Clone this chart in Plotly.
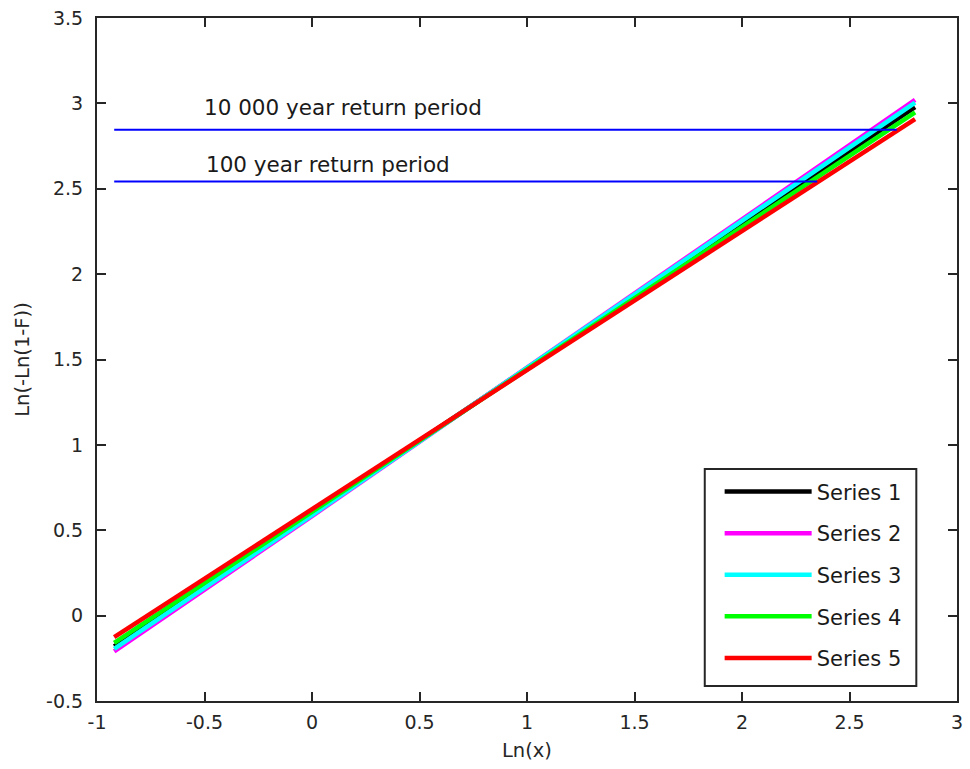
import plotly.graph_objects as go

# Ln(x) sample positions and Ln(-Ln(1-F)) values for each fitted series
x_vals = [-0.92, 0.0, 1.0, 2.0, 2.805]
series_names = ["Series 1", "Series 2", "Series 3", "Series 4", "Series 5"]
series_colors = ["#000000", "#FF00FF", "#00FFFF", "#00FF00", "#FF0000"]
series_1 = [-0.18, 0.597, 1.448, 2.298, 2.978]
series_2 = [-0.21, 0.583, 1.453, 2.323, 3.02]
series_3 = [-0.195, 0.589, 1.451, 2.313, 3.005]
series_4 = [-0.159, 0.609, 1.444, 2.279, 2.947]
series_5 = [-0.126, 0.624, 1.439, 2.254, 2.908]
series_values = [series_1, series_2, series_3, series_4, series_5]

# Return period reference levels
rp_labels = ["10 000 year return period", "100 year return period"]
rp_levels = [2.845, 2.542]
rp_x_start = [-0.92, -0.92]
rp_x_end = [2.72, 2.35]
rp_label_x = [-0.512, -0.503]
rp_label_y = [2.975, 2.642]

AXIS_COLOR = "#262626"
FONT = "DejaVu Sans"

fig = go.Figure()

for name, color, ys in zip(series_names, series_colors, series_values):
    fig.add_trace(go.Scatter(
        x=x_vals, y=ys, mode="lines", name=name, legendgroup=name,
        line=dict(color=color, width=4.5),
    ))

for xs, xe, lvl in zip(rp_x_start, rp_x_end, rp_levels):
    fig.add_trace(go.Scatter(
        x=[xs, xe], y=[lvl, lvl], mode="lines", showlegend=False,
        line=dict(color="#0000FF", width=2), hoverinfo="skip",
    ))

for txt, lx, ly in zip(rp_labels, rp_label_x, rp_label_y):
    fig.add_annotation(
        x=lx, y=ly, xref="x", yref="y", text=txt, showarrow=False,
        xanchor="left", yanchor="middle",
        font=dict(family=FONT, size=21.5, color="#1a1a1a"),
    )

# Framed box behind the legend entries
fig.add_shape(
    type="rect", xref="paper", yref="paper",
    x0=0.7067, x1=0.9527, y0=0.022, y1=0.3397,
    line=dict(color=AXIS_COLOR, width=2), fillcolor="white", layer="above",
)

axis_common = dict(
    showline=True, linecolor=AXIS_COLOR, linewidth=2, mirror="ticks",
    ticks="inside", ticklen=9, tickwidth=2, tickcolor=AXIS_COLOR,
    showgrid=False, zeroline=False,
    tickfont=dict(family=FONT, size=19, color=AXIS_COLOR),
)

fig.update_xaxes(
    range=[-1, 3], tickvals=[-1, -0.5, 0, 0.5, 1, 1.5, 2, 2.5, 3],
    ticktext=["-1", "-0.5", "0", "0.5", "1", "1.5", "2", "2.5", "3"],
    ticklabelstandoff=3,
    title=dict(text="Ln(x)", font=dict(family=FONT, size=19.5, color=AXIS_COLOR), standoff=12),
    **axis_common,
)
fig.update_yaxes(
    range=[-0.5, 3.5], tickvals=[-0.5, 0, 0.5, 1, 1.5, 2, 2.5, 3, 3.5],
    ticktext=["-0.5", "0", "0.5", "1", "1.5", "2", "2.5", "3", "3.5"],
    ticklabelstandoff=8,
    title=dict(text="Ln(-Ln(1-F))", font=dict(family=FONT, size=19.5, color=AXIS_COLOR), standoff=11),
    **axis_common,
)

fig.update_layout(
    width=970, height=769,
    margin=dict(l=97, r=7, t=18, b=68),
    paper_bgcolor="white", plot_bgcolor="white",
    showlegend=True,
    legend=dict(
        x=0.7240, y=0.3362, xanchor="left", yanchor="top",
        bgcolor="rgba(0,0,0,0)", borderwidth=0,
        font=dict(family=FONT, size=21, color="#1a1a1a"),
        itemwidth=87, tracegroupgap=11.3,
    ),
)

fig.write_html("out.html")
